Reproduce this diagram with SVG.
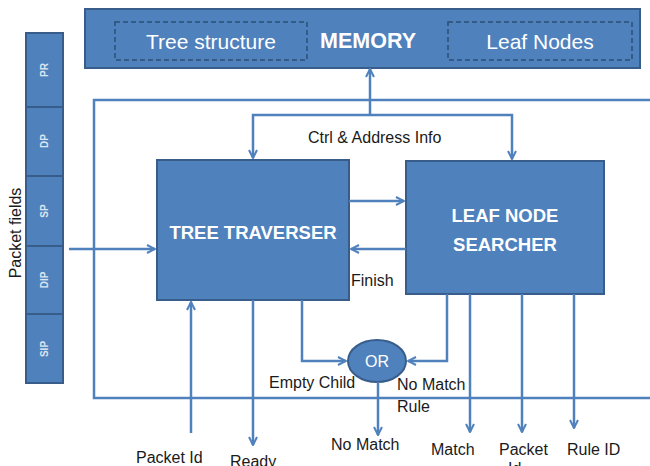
<svg xmlns="http://www.w3.org/2000/svg" width="650" height="466" viewBox="0 0 650 466">
<defs>
<marker id="arr" viewBox="0 0 10 10" refX="9" refY="5" markerWidth="10" markerHeight="10" markerUnits="userSpaceOnUse" orient="auto">
<polyline points="1,1 9,5 1,9" fill="none" stroke="#4F81BD" stroke-width="2"/>
</marker>
</defs>
<style>
.blk{fill:#4F81BD;stroke:#385D8A;stroke-width:2}
.dash{fill:none;stroke:#2C4D75;stroke-width:1.5;stroke-dasharray:5 3}
.ln{fill:none;stroke:#4F81BD;stroke-width:2.5}
.wt{fill:#FFFFFF;font-family:"Liberation Sans",Arial,sans-serif}
.lb{fill:#1A1A1A;font-family:"Liberation Sans",Arial,sans-serif;font-size:16px}
.fld{fill:#DCE6F2;font-family:"Liberation Sans",Arial,sans-serif;font-size:10px;font-weight:bold}
</style>
<rect width="650" height="466" fill="#FFFFFF"/>
<g id="outer">
<rect x="94" y="100" width="570" height="298" fill="#FFFFFF" stroke="#4F81BD" stroke-width="2.5"/>
</g>
<g id="memory">
<rect class="blk" x="85" y="9" width="555" height="59"/>
<rect class="dash" x="115" y="22" width="192" height="38"/>
<text class="wt" x="211" y="49" font-size="21" text-anchor="middle">Tree structure</text>
<text class="wt" x="368" y="48" font-size="21.5" font-weight="bold" text-anchor="middle">MEMORY</text>
<rect class="dash" x="448" y="22" width="184" height="38"/>
<text class="wt" x="540" y="49" font-size="21" text-anchor="middle">Leaf Nodes</text>
</g>
<g id="packet-fields">
<rect class="blk" x="26" y="33" width="37" height="74"/>
<rect class="blk" x="26" y="107" width="37" height="69"/>
<rect class="blk" x="26" y="176" width="37" height="70"/>
<rect class="blk" x="26" y="246" width="37" height="68"/>
<rect class="blk" x="26" y="314" width="37" height="69"/>
<text class="fld" transform="translate(48,70) rotate(-90)" text-anchor="middle">PR</text>
<text class="fld" transform="translate(48,141) rotate(-90)" text-anchor="middle">DP</text>
<text class="fld" transform="translate(48,211) rotate(-90)" text-anchor="middle">SP</text>
<text class="fld" transform="translate(48,280) rotate(-90)" text-anchor="middle">DIP</text>
<text class="fld" transform="translate(48,349) rotate(-90)" text-anchor="middle">SIP</text>
<text class="lb" transform="translate(21,233) rotate(-90)" text-anchor="middle" font-size="17.5">Packet fields</text>
</g>
<g id="tree-traverser">
<rect class="blk" x="157" y="160" width="192" height="140"/>
<text class="wt" x="253" y="239" font-size="18.5" font-weight="bold" text-anchor="middle">TREE TRAVERSER</text>
</g>
<g id="leaf-node-searcher">
<rect class="blk" x="406" y="161" width="198" height="133"/>
<text class="wt" x="505" y="222" font-size="18.5" font-weight="bold" text-anchor="middle">LEAF NODE</text>
<text class="wt" x="505" y="251" font-size="18.5" font-weight="bold" text-anchor="middle">SEARCHER</text>
</g>
<g id="or">
<ellipse cx="377" cy="361" rx="29" ry="21" class="blk"/>
<text class="wt" x="377" y="367" font-size="16" text-anchor="middle">OR</text>
</g>
<g id="connectors">
<polyline class="ln" points="370,115 370,69" marker-end="url(#arr)"/>
<polyline class="ln" points="370,115 253,115 253,158" marker-end="url(#arr)"/>
<polyline class="ln" points="370,115 512,115 512,159" marker-end="url(#arr)"/>
<polyline class="ln" points="69,249 155,249" marker-end="url(#arr)"/>
<polyline class="ln" points="349,201 404,201" marker-end="url(#arr)"/>
<polyline class="ln" points="406,249 351,249" marker-end="url(#arr)"/>
<polyline class="ln" points="191,433 191,302" marker-end="url(#arr)"/>
<polyline class="ln" points="253,300 253,445" marker-end="url(#arr)"/>
<polyline class="ln" points="302,300 302,361 346,361" marker-end="url(#arr)"/>
<polyline class="ln" points="447,294 447,361 408,361" marker-end="url(#arr)"/>
<polyline class="ln" points="378,382 378,435" marker-end="url(#arr)"/>
<polyline class="ln" points="470,294 470,432" marker-end="url(#arr)"/>
<polyline class="ln" points="522,294 522,432" marker-end="url(#arr)"/>
<polyline class="ln" points="574,294 574,428" marker-end="url(#arr)"/>
</g>
<g id="labels">
<text class="lb" x="308" y="143">Ctrl &amp; Address Info</text>
<text class="lb" x="351" y="286">Finish</text>
<text class="lb" x="269" y="388">Empty Child</text>
<text class="lb" x="397" y="390">No Match</text>
<text class="lb" x="397" y="412">Rule</text>
<text class="lb" x="331" y="450">No Match</text>
<text class="lb" x="431" y="455">Match</text>
<text class="lb" x="499" y="455">Packet</text>
<text class="lb" x="508" y="474">Id</text>
<text class="lb" x="567" y="455">Rule ID</text>
<text class="lb" x="136" y="463">Packet Id</text>
<text class="lb" x="230" y="467">Ready</text>
</g>
</svg>
